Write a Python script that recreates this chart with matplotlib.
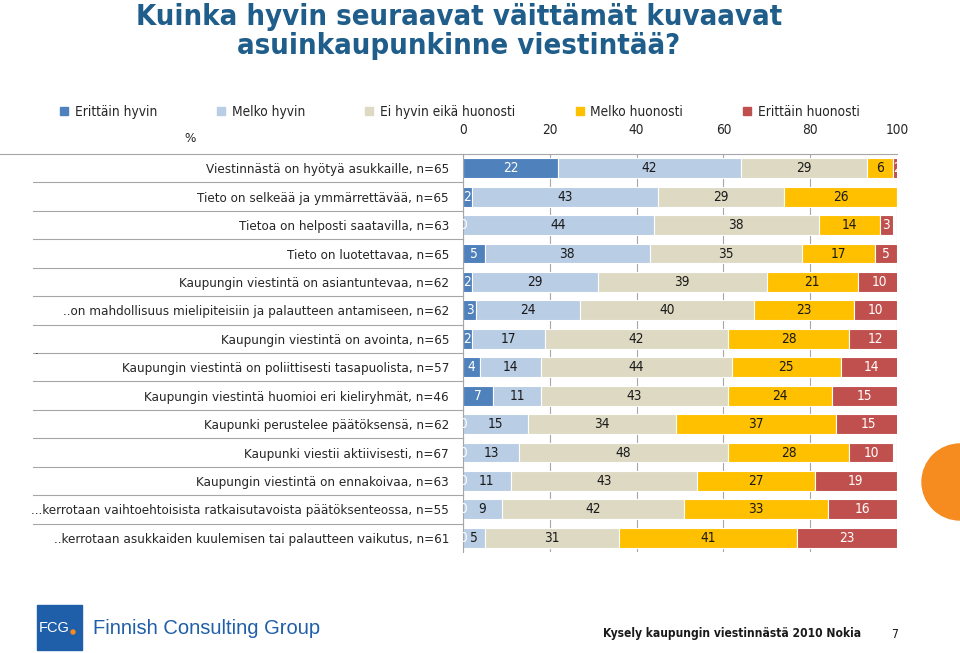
import matplotlib
matplotlib.use('Agg')
import matplotlib.pyplot as plt
import numpy as np
from matplotlib import font_manager
from matplotlib.lines import Line2D
from matplotlib.patches import Rectangle, Ellipse

# pick a narrow font if there is one
fonts = font_manager.fontManager.ttflist
names = {f.name for f in fonts}
NARROW = 'Liberation Sans Narrow' in names
COND = any(f.name == 'DejaVu Sans' and f.stretch == 'condensed' for f in fonts)
if NARROW:
    plt.rcParams['font.family'] = ['Liberation Sans Narrow', 'DejaVu Sans']
    fs = 10.8
elif COND:
    plt.rcParams['font.family'] = ['DejaVu Sans']
    plt.rcParams['font.stretch'] = 'condensed'
    fs = 9.65
else:
    plt.rcParams['font.family'] = ['DejaVu Sans']
    fs = 8.7
small = fs * 0.9   # footer
big = fs * 1.015   # legend, ticks, values

# data
labels = [
    "Viestinnästä on hyötyä asukkaille, n=65",
    "Tieto on selkeää ja ymmärrettävää, n=65",
    "Tietoa on helposti saatavilla, n=63",
    "Tieto on luotettavaa, n=65",
    "Kaupungin viestintä on asiantuntevaa, n=62",
    "..on mahdollisuus mielipiteisiin ja palautteen antamiseen, n=62",
    "Kaupungin viestintä on avointa, n=65",
    "Kaupungin viestintä on poliittisesti tasapuolista, n=57",
    "Kaupungin viestintä huomioi eri kieliryhmät, n=46",
    "Kaupunki perustelee päätöksensä, n=62",
    "Kaupunki viestii aktiivisesti, n=67",
    "Kaupungin viestintä on ennakoivaa, n=63",
    "...kerrotaan vaihtoehtoisista ratkaisutavoista päätöksenteossa, n=55",
    "..kerrotaan asukkaiden kuulemisen tai palautteen vaikutus, n=61",
]
series_names = ["Erittäin hyvin", "Melko hyvin", "Ei hyvin eikä huonosti",
                "Melko huonosti", "Erittäin huonosti"]
erittain_hyvin = [22, 2, 0, 5, 2, 3, 2, 4, 7, 0, 0, 0, 0, 0]
melko_hyvin = [42, 43, 44, 38, 29, 24, 17, 14, 11, 15, 13, 11, 9, 5]
ei_hyvin_eika = [29, 29, 38, 35, 39, 40, 42, 44, 43, 34, 48, 43, 42, 31]
melko_huonosti = [6, 26, 14, 17, 21, 23, 28, 25, 24, 37, 28, 27, 33, 41]
erittain_huonosti = [2, 0, 3, 5, 10, 10, 12, 14, 15, 15, 10, 19, 16, 23]
xticks = [0, 20, 40, 60, 80, 100]

colors = ['#4f81bd', '#b9cde5', '#ddd9c3', '#ffc000', '#c0504d']
text_colors = ['white', '#1a1a1a', '#1a1a1a', '#1a1a1a', 'white']
grey = '#a6a6a6'

fig = plt.figure(figsize=(9.6, 6.53), dpi=100)
ax = fig.add_axes([463/960, 1-552/653, 434/960, 398/653])

y = np.arange(len(labels))
left = np.zeros(len(labels))
all_series = [erittain_hyvin, melko_hyvin, ei_hyvin_eika, melko_huonosti, erittain_huonosti]
for i, vals in enumerate(all_series):
    vals = np.array(vals, dtype=float)
    ax.barh(y, vals, left=left, height=0.7, color=colors[i], edgecolor='white',
            linewidth=0.8, zorder=2)
    for j, v in enumerate(vals):
        if v == 0:
            if i == 0:
                # the zero label sits half outside the axes, as in the original
                ax.text(0, j, "0", ha='center', va='center', fontsize=big,
                        color='white', zorder=3, clip_on=True)
            continue
        ax.text(left[j] + v/2, j, f"{int(v)}", ha='center', va='center',
                fontsize=big, color=text_colors[i], zorder=3, clip_on=True)
    left += vals

ax.set_xlim(0, 100)
ax.set_ylim(len(labels) - 0.5, -0.5)
ax.xaxis.tick_top()
ax.set_xticks(xticks)
ax.set_xticklabels([str(t) for t in xticks], fontsize=big, color='#262626')
ax.tick_params(axis='x', length=0, pad=12)
ax.set_yticks(y)
ax.set_yticklabels(labels, fontsize=fs, color='#262626')
ax.tick_params(axis='y', length=0, pad=10)
ax.grid(axis='x', color=grey, linewidth=0.8, zorder=0)
for s in ['right', 'bottom']:
    ax.spines[s].set_visible(False)
ax.spines['top'].set_color(grey)
ax.spines['left'].set_color(grey)

# row separators in the label area
trans = ax.get_yaxis_transform()
for k in range(1, len(labels)):
    ax.plot([-0.991, 0], [k - 0.5, k - 0.5], transform=trans, color=grey,
            linewidth=0.8, clip_on=False)
ax.plot([-1.067, 0], [-0.5, -0.5], transform=trans, color=grey,
        linewidth=0.8, clip_on=False)

# legend
handles = [Line2D([], [], marker='s', linestyle='none', markersize=6,
                  markerfacecolor=c, markeredgecolor=c) for c in colors]
fig.legend(handles, series_names, loc='center left', bbox_to_anchor=(60/960, 1-112/653),
           ncol=5, frameon=False, fontsize=big, handlelength=0.6, handletextpad=0.5,
           columnspacing=4.4, borderpad=0, borderaxespad=0, labelcolor='#262626')
fig.text(190/960, 1-138/653, "%", fontsize=fs, color='#262626', ha='center', va='center')
fig.text(37/960, 1-350/653, ".", fontsize=fs, color='#262626', ha='center', va='center')

# title
title_kw = dict(ha='center', va='center', color='#1f5d8b', fontweight='bold')
if NARROW:
    tsize = 23
elif COND:
    title_kw['fontstretch'] = 'condensed'
    tsize = 21
else:
    tsize = 19
fig.text(459/960, 1-17/653, "Kuinka hyvin seuraavat väittämät kuvaavat", fontsize=tsize, **title_kw)
fig.text(459/960, 1-46/653, "asuinkaupunkinne viestintää?", fontsize=tsize, **title_kw)

# orange half circle at right edge
fig.patches.append(Ellipse((1.0, 1-482/653), 76/960, 76/653, transform=fig.transFigure,
                           color='#f68b1f', zorder=1))

# footer logo
fig.patches.append(Rectangle((37/960, 1-650/653), 45/960, 45/653, transform=fig.transFigure,
                             color='#1f5ea8'))
fig.text(54/960, 1-628/653, "FCG", fontsize=10.5, color='white', ha='center', va='center',
         family=['Liberation Sans', 'DejaVu Sans'], fontstretch='normal')
fig.patches.append(Ellipse((73/960, 1-632/653), 4/960, 4/653, transform=fig.transFigure,
                           color='#f68b1f'))
fig.text(93/960, 1-628/653, "Finnish Consulting Group", fontsize=14.5, color='#1f5ea8',
         ha='left', va='center', family=['Liberation Sans', 'DejaVu Sans'], fontstretch='normal')
fig.text(603/960, 1-634/653, "Kysely kaupungin viestinnästä 2010 Nokia", fontsize=small,
         color='#1a1a1a', ha='left', va='center', fontweight='bold')
fig.text(895/960, 1-634/653, "7", fontsize=small, color='#1a1a1a', ha='center', va='center')

fig.savefig('out.png', dpi=100)
